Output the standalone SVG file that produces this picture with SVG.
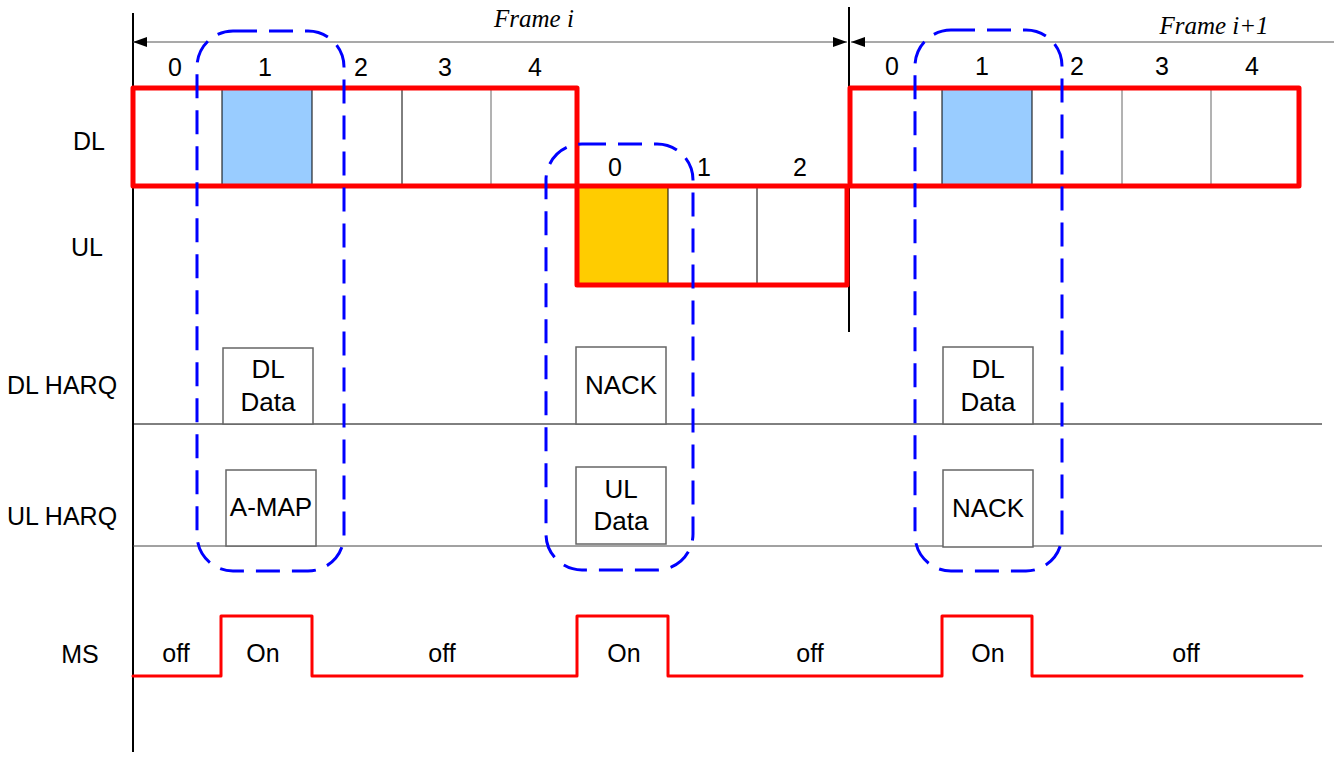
<svg xmlns="http://www.w3.org/2000/svg" width="1334" height="757" viewBox="0 0 1334 757">
<defs>
<style>
.t{font-family:"Liberation Sans",Arial,sans-serif;font-size:25px;fill:#000;text-anchor:middle}
.bt{font-family:"Liberation Sans",Arial,sans-serif;font-size:26px;fill:#000;text-anchor:middle}
.fr{font-family:"Liberation Serif","Times New Roman",serif;font-style:italic;font-size:25px;fill:#000;text-anchor:middle}
.frame{fill:none;stroke:#FF0000;stroke-width:5;stroke-linejoin:round}
.div{stroke:#000;stroke-width:1}
.box{fill:#fff;stroke:#666;stroke-width:1.5}
.dash{fill:none;stroke:#0000FF;stroke-width:3;stroke-dasharray:24 12}
.ax{stroke:#000;stroke-width:2}
.hl{stroke:#000;stroke-width:1}
</style>
<marker id="ah" viewBox="0 0 14 10" refX="14" refY="5" markerWidth="14" markerHeight="10" markerUnits="userSpaceOnUse" orient="auto-start-reverse">
<path d="M0,0 L14,5 L0,10 Z" fill="#000"/>
</marker>
</defs>
<rect width="1334" height="757" fill="#fff"/>

<g id="axes">
<line class="ax" x1="133" y1="13" x2="133" y2="752"/>
<line class="ax" x1="849" y1="7" x2="849" y2="332"/>
<line class="hl" x1="133" y1="424" x2="1322" y2="424"/>
<line x1="133" y1="546" x2="1322" y2="546" stroke="#444" stroke-width="1"/>
</g>

<g id="connectors">
<line x1="133" y1="42" x2="847" y2="42" stroke="#555" stroke-width="1.2" marker-start="url(#ah)" marker-end="url(#ah)"/>
<line x1="851" y1="42" x2="1334" y2="42" stroke="#555" stroke-width="1.2" marker-start="url(#ah)"/>
</g>

<g id="frame-labels">
<text class="fr" x="534" y="27">Frame i</text>
<text class="fr" x="1214" y="34">Frame i+1</text>
</g>

<g id="row-labels">
<text class="t" x="89" y="150">DL</text>
<text class="t" x="87" y="256">UL</text>
<text class="t" x="62" y="394">DL HARQ</text>
<text class="t" x="62" y="525">UL HARQ</text>
<text class="t" x="80" y="663">MS</text>
</g>

<g id="dl-frame-i">
<rect x="222" y="88" width="90" height="98" fill="#99CCFF"/>
<line class="div" x1="222" y1="88" x2="222" y2="186"/>
<line class="div" x1="312" y1="88" x2="312" y2="186"/>
<line class="div" x1="402" y1="88" x2="402" y2="186"/>
<line x1="491" y1="88" x2="491" y2="186" stroke="#666" stroke-width="1"/>
<rect class="frame" x="133" y="88" width="444" height="98"/>
<text class="t" x="175" y="76">0</text>
<text class="t" x="265" y="76">1</text>
<text class="t" x="361" y="76">2</text>
<text class="t" x="445" y="76">3</text>
<text class="t" x="535" y="76">4</text>
</g>

<g id="ul-frame-i">
<rect x="577" y="186" width="91" height="99" fill="#FFCC00"/>
<line class="div" x1="668" y1="186" x2="668" y2="285"/>
<line class="div" x1="757" y1="186" x2="757" y2="285"/>
<rect class="frame" x="577" y="186" width="270" height="99"/>
<text class="t" x="615" y="176">0</text>
<text class="t" x="704" y="176">1</text>
<text class="t" x="800" y="176">2</text>
</g>

<g id="dl-frame-i1">
<rect x="942" y="88" width="90" height="98" fill="#99CCFF"/>
<line class="div" x1="942" y1="88" x2="942" y2="186"/>
<line class="div" x1="1032" y1="88" x2="1032" y2="186"/>
<line x1="1122" y1="88" x2="1122" y2="186" stroke="#666" stroke-width="1"/>
<line x1="1211" y1="88" x2="1211" y2="186" stroke="#666" stroke-width="1"/>
<rect class="frame" x="850" y="88" width="449" height="98"/>
<text class="t" x="892" y="75">0</text>
<text class="t" x="982" y="75">1</text>
<text class="t" x="1077" y="75">2</text>
<text class="t" x="1162" y="75">3</text>
<text class="t" x="1252" y="75">4</text>
</g>

<g id="dl-data-1">
<rect class="box" x="223" y="348" width="90" height="76"/>
<text class="bt" x="268" y="378">DL</text>
<text class="bt" x="268" y="411">Data</text>
</g>
<g id="a-map">
<rect class="box" x="226" y="470" width="90" height="76"/>
<text class="bt" x="271" y="516">A-MAP</text>
</g>
<g id="nack-1">
<rect class="box" x="576" y="347" width="90" height="77"/>
<text class="bt" x="621" y="394">NACK</text>
</g>
<g id="ul-data">
<rect class="box" x="576" y="467" width="90" height="77"/>
<text class="bt" x="621" y="498">UL</text>
<text class="bt" x="621" y="530">Data</text>
</g>
<g id="dl-data-2">
<rect class="box" x="943" y="347" width="90" height="77"/>
<text class="bt" x="988" y="378">DL</text>
<text class="bt" x="988" y="411">Data</text>
</g>
<g id="nack-2">
<rect class="box" x="943" y="470" width="90" height="77"/>
<text class="bt" x="988" y="517">NACK</text>
</g>

<g id="groups">
<rect class="dash" x="197" y="31" width="147" height="540" rx="36" ry="36"/>
<rect class="dash" x="546" y="144" width="147" height="426" rx="36" ry="36"/>
<rect class="dash" x="915" y="30" width="147" height="541" rx="36" ry="36"/>
</g>

<g id="ms">
<polyline points="133,676 221,676 221,616 312,616 312,676 577,676 577,616 668,616 668,676 942,676 942,616 1032,616 1032,676 1302,676" fill="none" stroke="#FF0000" stroke-width="3" stroke-linejoin="round" stroke-linecap="round"/>
<text class="t" x="176" y="662">off</text>
<text class="t" x="263" y="662">On</text>
<text class="t" x="442" y="662">off</text>
<text class="t" x="624" y="662">On</text>
<text class="t" x="810" y="662">off</text>
<text class="t" x="988" y="662">On</text>
<text class="t" x="1186" y="662">off</text>
</g>
</svg>
